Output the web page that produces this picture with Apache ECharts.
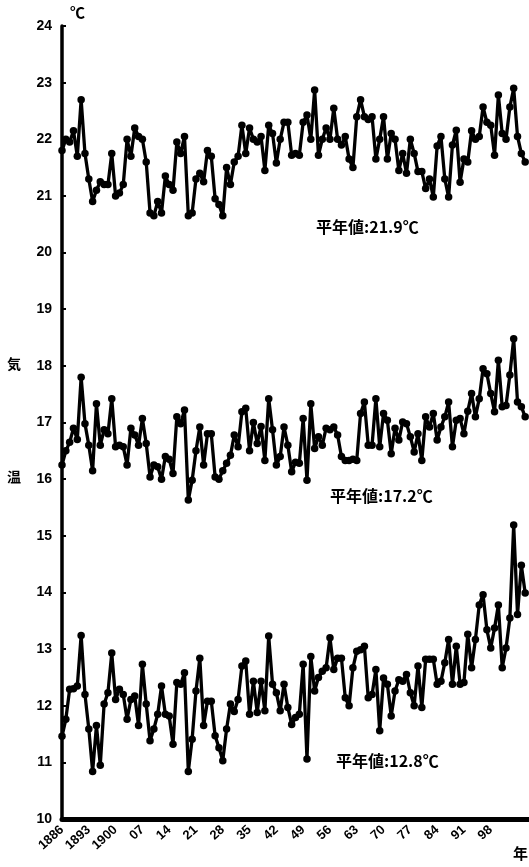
<!DOCTYPE html>
<html>
<head>
<meta charset="utf-8">
<script src="https://cdn.jsdelivr.net/npm/echarts@6/dist/echarts.min.js"></script>
<style>
  html, body { margin: 0; padding: 0; background: #fff; }
  #chart { width: 529px; height: 867px; }
</style>
</head>
<body>
<div id="chart"></div>
<script>
// Annual temperature records, 1886-2007 (three series, °C)
const firstYear = 1886;
const lastYear = 2008;

const upperSeries = [
  21.8, 22.0, 21.95, 22.15, 21.7, 22.7, 21.75, 21.3, 20.9, 21.1,
  21.25, 21.2, 21.2, 21.75, 21.0, 21.05, 21.2, 22.0, 21.7, 22.2,
  22.05, 22.0, 21.6, 20.7, 20.65, 20.9, 20.7, 21.35, 21.2, 21.1,
  21.95, 21.75, 22.05, 20.65, 20.7, 21.3, 21.4, 21.25, 21.8, 21.7,
  20.95, 20.85, 20.65, 21.5, 21.2, 21.6, 21.7, 22.25, 21.75, 22.2,
  22.0, 21.95, 22.05,
  21.45, 22.25, 22.1, 21.58, 22.0, 22.3, 22.3, 21.72, 21.75, 21.72,
  22.3, 22.43, 22.0, 22.87, 21.72, 22.0, 22.2, 22.0, 22.55, 22.0,
  21.9, 22.05, 21.65, 21.5, 22.4, 22.7, 22.4, 22.35, 22.4, 21.65,
  22.0, 22.4, 21.65, 22.1, 22.0, 21.45, 21.75, 21.4, 22.0, 21.75,
  21.43, 21.43, 21.13, 21.3, 20.98, 21.88, 22.05, 21.3, 20.98, 21.9,
  22.16, 21.24, 21.65, 21.6, 22.15, 22.0, 22.05, 22.57, 22.3, 22.25,
  21.72, 22.78, 22.1, 22.0, 22.57, 22.9, 22.05, 21.75, 21.6
];

const middleSeries = [
  16.25, 16.5, 16.65, 16.9, 16.7, 17.8, 16.98, 16.6, 16.15, 17.33,
  16.6, 16.87, 16.8, 17.42, 16.57, 16.6, 16.57, 16.25, 16.9, 16.78,
  16.6, 17.07, 16.63, 16.04, 16.25, 16.22, 16.0, 16.4, 16.35, 16.1,
  17.1, 16.98, 17.22, 15.63, 15.98, 16.5, 16.92, 16.25, 16.8, 16.8,
  16.04, 16.0, 16.15, 16.28, 16.42, 16.78, 16.57, 17.19, 17.25, 16.5,
  17.0, 16.63, 16.93,
  16.33, 17.42, 16.87, 16.25, 16.4, 16.92, 16.6, 16.13, 16.3, 16.28,
  17.07, 15.98, 17.33, 16.54, 16.75, 16.6, 16.9, 16.87, 16.92, 16.78,
  16.4, 16.33, 16.33, 16.35, 16.33, 17.16, 17.36, 16.6, 16.6, 17.42,
  16.57, 17.16, 17.04, 16.45, 16.9, 16.69, 17.01, 16.98, 16.75, 16.48,
  16.8, 16.33, 17.1, 16.92, 17.16, 16.69, 16.92, 17.1, 17.36, 16.57,
  17.04, 17.07, 16.8, 17.2, 17.51, 17.1, 17.42, 17.95, 17.86, 17.51,
  17.19, 18.1, 17.28, 17.3, 17.84, 18.48, 17.36, 17.28, 17.1
];

const lowerSeries = [
  11.46, 11.76, 12.29, 12.3, 12.35, 13.24, 12.2, 11.59, 10.84, 11.65,
  10.95, 12.03, 12.23, 12.93, 12.11, 12.29, 12.2, 11.76, 12.11, 12.17,
  11.65, 12.73, 12.03, 11.38, 11.59, 11.85, 12.35, 11.85, 11.82, 11.32,
  12.41, 12.38, 12.58, 10.84, 11.41, 12.26, 12.84, 11.65, 12.08, 12.08,
  11.47, 11.26, 11.03, 11.59, 12.03, 11.9, 12.11, 12.7, 12.79, 11.85,
  12.43, 11.88, 12.43,
  11.91, 13.23, 12.38, 12.23, 11.91, 12.38, 11.97, 11.67, 11.79, 11.85,
  12.73, 11.06, 12.87, 12.26, 12.5, 12.61, 12.67, 13.2, 12.64, 12.84,
  12.84, 12.14, 12.0, 12.67, 12.96, 12.99, 13.05, 12.14, 12.2, 12.64,
  11.56, 12.49, 12.38, 11.82, 12.26, 12.46, 12.43, 12.55, 12.23, 12.0,
  12.7, 11.97, 12.82, 12.82, 12.82, 12.38, 12.43, 12.76, 13.17, 12.38,
  13.05, 12.38, 12.41, 13.26, 12.67, 13.17, 13.78, 13.96, 13.34, 13.02,
  13.37, 13.78, 12.67, 13.02, 13.55, 15.19, 13.61, 14.48, 13.99
];

const normalLabels = ['平年値:21.9℃', '平年値:17.2℃', '平年値:12.8℃'];

const years = [];
for (let y = firstYear; y <= lastYear; y++) years.push(String(y));

// tick labels every 7 years; full year for the first three, two digits after
function yearLabel(value) {
  const y = Number(value);
  if (y >= 2005) return '';
  if (y <= 1900) return String(y);
  return String(y % 100).padStart(2, '0');
}

const chart = echarts.init(document.getElementById('chart'), null, { renderer: 'canvas' });

const lineStyleCommon = {
  type: 'line',
  symbol: 'circle',
  symbolSize: 7.5,
  showSymbol: true,
  showAllSymbol: true,
  itemStyle: { color: '#000' },
  lineStyle: { color: '#000', width: 3.3 },
  silent: true,
  animation: false
};

const labelFont = 'Liberation Sans, Arial, sans-serif';
const cjkFont = '"Noto Sans CJK JP", sans-serif';

chart.setOption({
  backgroundColor: '#fff',
  animation: false,
  grid: { left: 62, right: 0, top: 26, bottom: 48, containLabel: false },
  xAxis: {
    type: 'category',
    data: years,
    boundaryGap: false,
    axisLine: { show: true, lineStyle: { color: '#000', width: 5 } },
    axisTick: { show: false },
    axisLabel: {
      interval: 6,
      rotate: 42,
      margin: 9,
      color: '#000',
      fontFamily: labelFont,
      fontWeight: 'bold',
      fontSize: 13,
      formatter: yearLabel
    },
    splitLine: { show: false }
  },
  yAxis: {
    type: 'value',
    min: 10,
    max: 24,
    interval: 1,
    axisLine: { show: true, lineStyle: { color: '#000', width: 3.5 } },
    axisTick: { show: true, inside: true, length: 4, lineStyle: { color: '#000', width: 2 } },
    axisLabel: {
      color: '#000',
      fontFamily: labelFont,
      fontWeight: 'bold',
      fontSize: 14,
      margin: 10
    },
    splitLine: { show: false }
  },
  series: [
    Object.assign({ name: 'upper', data: upperSeries }, lineStyleCommon),
    Object.assign({ name: 'middle', data: middleSeries }, lineStyleCommon),
    Object.assign({ name: 'lower', data: lowerSeries }, lineStyleCommon)
  ],
  graphic: [
    { type: 'text', left: 70, top: 5,
      style: { text: '℃', font: 'bold 15px ' + cjkFont, fill: '#000' } },
    { type: 'text', left: 7, top: 357,
      style: { text: '気', font: 'bold 14px ' + cjkFont, fill: '#000' } },
    { type: 'text', left: 7, top: 470,
      style: { text: '温', font: 'bold 14px ' + cjkFont, fill: '#000' } },
    { type: 'text', left: 513, top: 846,
      style: { text: '年', font: 'bold 15px ' + cjkFont, fill: '#000' } },
    { type: 'text', left: 316, top: 219,
      style: { text: normalLabels[0], font: 'bold 16px ' + cjkFont, fill: '#000' } },
    { type: 'text', left: 330, top: 488,
      style: { text: normalLabels[1], font: 'bold 16px ' + cjkFont, fill: '#000' } },
    { type: 'text', left: 336, top: 753,
      style: { text: normalLabels[2], font: 'bold 16px ' + cjkFont, fill: '#000' } }
  ]
});
</script>
</body>
</html>
